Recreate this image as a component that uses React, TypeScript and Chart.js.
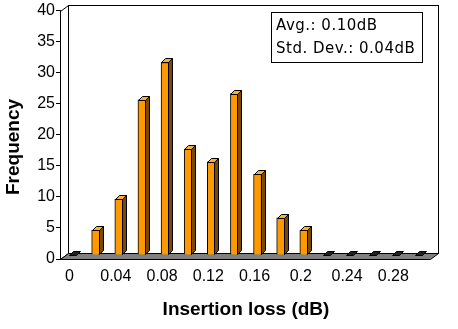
import { useEffect, useRef } from 'react';
import { Chart, registerables } from 'chart.js';

Chart.register(...registerables);

const categories = ['0', '0.02', '0.04', '0.06', '0.08', '0.1', '0.12', '0.14', '0.16', '0.18', '0.2', '0.22', '0.24', '0.26', '0.28', '0.3'];
const frequency = [0, 4, 9, 25, 31, 17, 15, 26, 13, 6, 4, 0, 0, 0, 0, 0];
const yMin = 0;
const yMax = 40;
const yStep = 5;
const xTitle = 'Insertion loss (dB)';
const yTitle = 'Frequency';
const statsLines = ['Avg.: 0.10dB', 'Std. Dev.: 0.04dB'];

const WALL_DX = 8;
const WALL_DY = 6;
const BAR_SHIFT_X = 1;
const BAR_SHIFT_Y = -4;
const BAR_DEPTH = 4;

const threeD = {
  id: 'threeD',
  beforeDraw(chart: any) {
    const { ctx, chartArea: a } = chart;
    ctx.save();
    ctx.fillStyle = '#fff';
    ctx.fillRect(0, 0, chart.width, chart.height);
    const L = Math.round(a.left) + 0.5;
    const R = Math.round(a.right) + 0.5;
    const T = Math.round(a.top) + 0.5;
    const B = Math.round(a.bottom) + 0.5;
    ctx.strokeStyle = '#000';
    ctx.lineWidth = 1;
    // back wall
    ctx.strokeRect(L + WALL_DX, T - WALL_DY, R - L, B - T);
    // left wall
    ctx.beginPath();
    ctx.moveTo(L, B);
    ctx.lineTo(L, T);
    ctx.lineTo(L + WALL_DX, T - WALL_DY);
    ctx.lineTo(L + WALL_DX, B - WALL_DY);
    ctx.closePath();
    ctx.stroke();
    // floor
    ctx.beginPath();
    ctx.moveTo(L, B);
    ctx.lineTo(R, B);
    ctx.lineTo(R + WALL_DX, B - WALL_DY);
    ctx.lineTo(L + WALL_DX, B - WALL_DY);
    ctx.closePath();
    ctx.fillStyle = '#808080';
    ctx.fill();
    ctx.stroke();
    ctx.restore();
  },
  beforeDatasetsDraw(chart: any) {
    chart.ctx.save();
    chart.ctx.translate(BAR_SHIFT_X, BAR_SHIFT_Y);
  },
  afterDatasetsDraw(chart: any) {
    const ctx = chart.ctx;
    const meta = chart.getDatasetMeta(0);
    ctx.lineWidth = 1;
    ctx.strokeStyle = '#000';
    meta.data.forEach((bar: any) => {
      const { x, y, base, width } = bar.getProps(['x', 'y', 'base', 'width'], true);
      const l = Math.round(x - width / 2) + 0.5;
      const r = Math.round(x + width / 2) - 0.5;
      const t = Math.round(y) + 0.5;
      const b = Math.round(base) - 0.5;
      const d = BAR_DEPTH;
      // side
      if (b > t) {
        ctx.beginPath();
        ctx.moveTo(r, t);
        ctx.lineTo(r + d, t - d);
        ctx.lineTo(r + d, b - d);
        ctx.lineTo(r, b);
        ctx.closePath();
        ctx.fillStyle = '#7a4800';
        ctx.fill();
        ctx.stroke();
      }
      // top
      ctx.beginPath();
      ctx.moveTo(l, t);
      ctx.lineTo(l + d, t - d);
      ctx.lineTo(r + d, t - d);
      ctx.lineTo(r, t);
      ctx.closePath();
      ctx.fillStyle = b > t ? '#ffad33' : '#202020';
      ctx.fill();
      ctx.stroke();
    });
    ctx.restore();
  },
  afterDraw(chart: any) {
    const { ctx, chartArea: a } = chart;
    ctx.save();
    // stats box
    ctx.fillStyle = '#fff';
    ctx.fillRect(271.5, 12.5, 151, 50);
    ctx.strokeStyle = '#000';
    ctx.lineWidth = 1;
    ctx.strokeRect(271.5, 12.5, 151, 50);
    ctx.fillStyle = '#000';
    ctx.font = '15px "DejaVu Sans"';
    try { (ctx as any).letterSpacing = '0.5px'; } catch (e) {}
    ctx.textAlign = 'left';
    ctx.textBaseline = 'middle';
    statsLines.forEach((line, i) => {
      ctx.fillText(line, 276, 26 + i * 23);
    });
    try { (ctx as any).letterSpacing = '0px'; } catch (e) {}
    // titles
    ctx.font = 'bold 19px "Liberation Sans", Arial, sans-serif';
    ctx.textAlign = 'center';
    ctx.fillText(xTitle, (a.left + a.right) / 2 + 1, 310);
    ctx.translate(14, 147);
    ctx.rotate(-Math.PI / 2);
    ctx.fillText(yTitle, 0, 0);
    ctx.restore();
  },
};

export default function App() {
  const ref = useRef<HTMLCanvasElement | null>(null);
  useEffect(() => {
    document.body.style.margin = '0';
    const tickFont = { family: '"Liberation Sans", Arial, sans-serif', size: 16 };
    const chart = new Chart(ref.current as HTMLCanvasElement, {
      type: 'bar',
      data: {
        labels: categories,
        datasets: [
          {
            data: frequency,
            backgroundColor: '#ff9900',
            borderColor: '#000',
            borderWidth: 1,
            barThickness: 8,
            clip: false as any,
          },
        ],
      },
      options: {
        animation: false,
        responsive: false,
        layout: { padding: { top: 10, right: 28, left: 0, bottom: 0 } },
        plugins: { legend: { display: false }, tooltip: { enabled: false } },
        scales: {
          x: {
            grid: { display: false, drawTicks: false },
            border: { display: false },
            ticks: {
              autoSkip: false,
              maxRotation: 0,
              minRotation: 0,
              padding: 8,
              labelOffset: -2,
              color: '#000',
              font: tickFont,
              callback: (_v: any, i: number) => (i % 2 === 0 ? categories[i] : ''),
            },
            afterFit: (s: any) => {
              s.height = 70;
            },
          },
          y: {
            min: yMin,
            max: yMax,
            ticks: { stepSize: yStep, padding: 1, color: '#000', font: tickFont },
            grid: { drawOnChartArea: false, drawTicks: true, tickLength: 4, color: '#000' },
            border: { display: true, color: '#000' },
            afterFit: (s: any) => {
              s.width = 60;
            },
          },
        },
      },
      plugins: [threeD],
    });
    return () => chart.destroy();
  }, []);
  return (
    <div style={{ position: 'absolute', left: 0, top: 0, width: 458, height: 329 }}>
      <canvas ref={ref} width={458} height={329} />
    </div>
  );
}
